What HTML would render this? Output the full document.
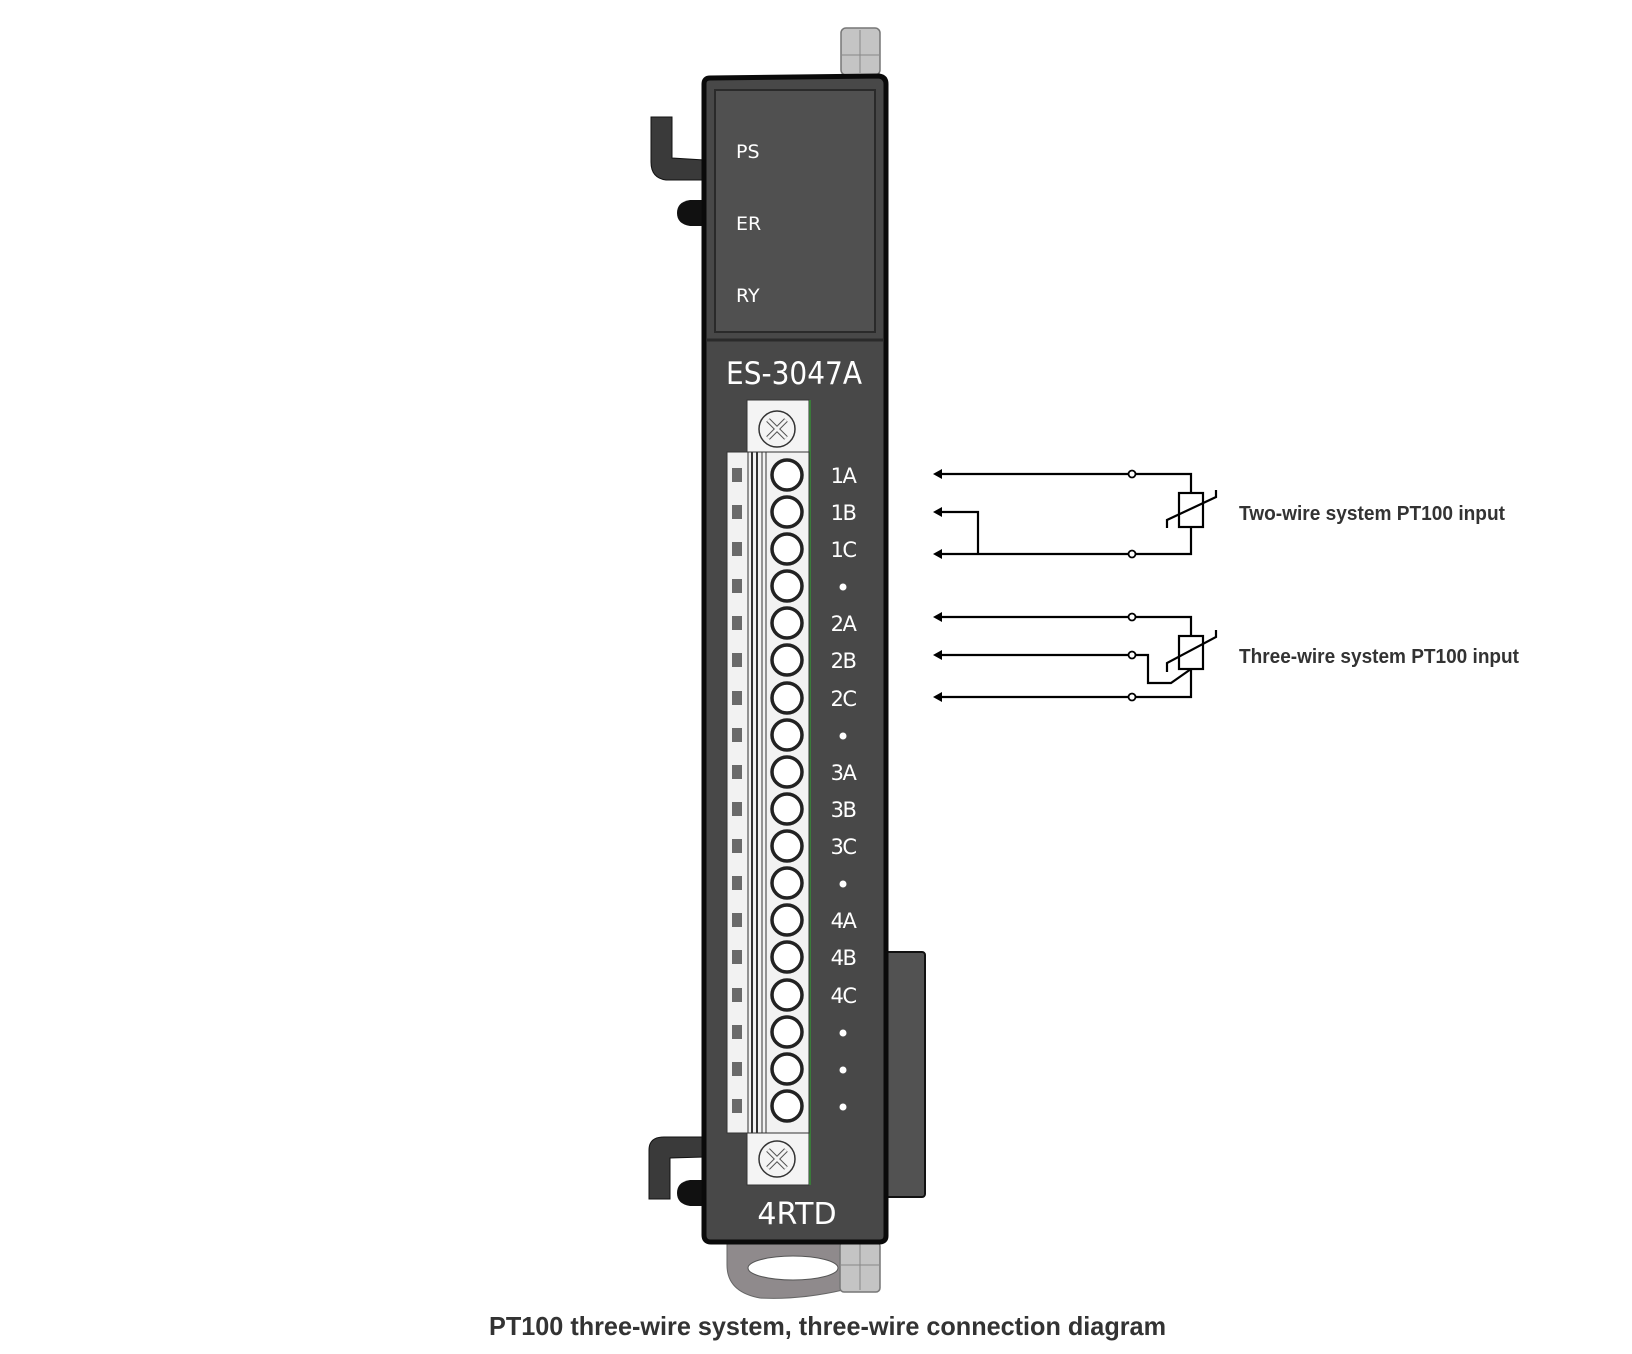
<!DOCTYPE html>
<html><head><meta charset="utf-8"><style>
html,body{margin:0;padding:0;background:#fff;}
svg{display:block;}
</style></head><body>
<svg width="1632" height="1354" viewBox="0 0 1632 1354" xmlns="http://www.w3.org/2000/svg">
<rect x="841" y="28" width="39" height="47" rx="5" fill="#c4c4c4" stroke="#777" stroke-width="1.5"/>
<line x1="860" y1="30" x2="860" y2="73" stroke="#888"/>
<line x1="842" y1="55" x2="879" y2="55" stroke="#888"/>
<path d="M727 1238 L843 1238 L843 1290 Q800 1300 760 1298 Q727 1292 727 1265 Z" fill="#8f8a8c" stroke="#666"/>
<ellipse cx="793" cy="1268" rx="45" ry="12" fill="#fff" stroke="#555"/>
<rect x="840" y="1242" width="40" height="50" rx="4" fill="#c4c4c4" stroke="#777" stroke-width="1.5"/>
<line x1="860" y1="1244" x2="860" y2="1290" stroke="#888"/>
<line x1="841" y1="1265" x2="879" y2="1265" stroke="#888"/>
<path d="M651 117 L672 117 L672 158 L704 160 L704 180 L666 180 Q651 178 651 162 Z" fill="#3a3a3a" stroke="#111"/>
<path d="M690 200 L706 200 L706 226 L690 226 Q677 224 677 213 Q677 202 690 200Z" fill="#111"/>
<path d="M649 1150 Q649 1137 664 1137 L704 1137 L704 1157 L670 1158 L670 1199 L649 1199 Z" fill="#3a3a3a" stroke="#111"/>
<path d="M690 1180 L706 1180 L706 1206 L690 1206 Q677 1204 677 1193 Q677 1182 690 1180Z" fill="#111"/>
<rect x="880" y="952" width="45" height="245" rx="3" fill="#525252" stroke="#111" stroke-width="2"/>
<path d="M710 78 L879 76 Q886 77 886 84 L886 1236 Q886 1242 879 1242 L711 1242 Q704 1242 704 1235 L704 84 Q704 78 710 78Z" fill="#484848" stroke="#0a0a0a" stroke-width="5"/>
<rect x="715" y="90" width="160" height="242" fill="#505050" stroke="#2a2a2a" stroke-width="2"/>
<line x1="706" y1="340" x2="884" y2="340" stroke="#2a2a2a" stroke-width="3"/>
<g font-family="'DejaVu Sans','Liberation Sans',sans-serif" fill="#fff">
<text x="736" y="158" font-size="19">PS</text>
<text x="736" y="230" font-size="19">ER</text>
<text x="736" y="302" font-size="19">RY</text>
<text x="726" y="384" font-size="31" textLength="136" lengthAdjust="spacingAndGlyphs">ES-3047A</text>
<text x="797" y="1224" font-size="30" text-anchor="middle">4RTD</text>
</g>
<rect x="747" y="400" width="62" height="54" fill="#f4f4f4" stroke="#333"/>
<circle cx="777" cy="429" r="18" fill="#f4f4f4" stroke="#333" stroke-width="1.5"/>
<path d="M768 420 L786 438 M786 420 L768 438" stroke="#555" stroke-width="5"/>
<path d="M768 420 L786 438 M786 420 L768 438" stroke="#f4f4f4" stroke-width="3"/>
<rect x="747" y="1133" width="62" height="52" fill="#f4f4f4" stroke="#333"/>
<circle cx="777" cy="1159" r="18" fill="#f4f4f4" stroke="#333" stroke-width="1.5"/>
<path d="M768 1150 L786 1168 M786 1150 L768 1168" stroke="#555" stroke-width="5"/>
<path d="M768 1150 L786 1168 M786 1150 L768 1168" stroke="#f4f4f4" stroke-width="3"/>
<line x1="810" y1="400" x2="810" y2="1185" stroke="#3a7a3a" stroke-width="2"/>
<rect x="727" y="452" width="82" height="681" fill="#f2f2f2" stroke="#333"/>
<g stroke="#333" fill="none">
<line x1="748" y1="452" x2="748" y2="1133"/>
<line x1="752" y1="452" x2="752" y2="1133" stroke-width="2"/>
<line x1="757" y1="452" x2="757" y2="1133" stroke-width="2"/>
<line x1="762" y1="452" x2="762" y2="1133"/>
<line x1="766" y1="452" x2="766" y2="1133"/>
</g>
<g fill="#6a6a6a">
<rect x="732" y="468" width="10" height="14"/><rect x="732" y="505" width="10" height="14"/><rect x="732" y="542" width="10" height="14"/><rect x="732" y="579" width="10" height="14"/><rect x="732" y="616" width="10" height="14"/><rect x="732" y="653" width="10" height="14"/><rect x="732" y="691" width="10" height="14"/><rect x="732" y="728" width="10" height="14"/><rect x="732" y="765" width="10" height="14"/><rect x="732" y="802" width="10" height="14"/><rect x="732" y="839" width="10" height="14"/><rect x="732" y="876" width="10" height="14"/><rect x="732" y="913" width="10" height="14"/><rect x="732" y="950" width="10" height="14"/><rect x="732" y="988" width="10" height="14"/><rect x="732" y="1025" width="10" height="14"/><rect x="732" y="1062" width="10" height="14"/><rect x="732" y="1099" width="10" height="14"/>
</g>
<g fill="#fff" stroke="#222" stroke-width="3.5">
<circle cx="787" cy="475" r="15"/><circle cx="787" cy="512" r="15"/><circle cx="787" cy="549" r="15"/><circle cx="787" cy="586" r="15"/><circle cx="787" cy="623" r="15"/><circle cx="787" cy="660" r="15"/><circle cx="787" cy="698" r="15"/><circle cx="787" cy="735" r="15"/><circle cx="787" cy="772" r="15"/><circle cx="787" cy="809" r="15"/><circle cx="787" cy="846" r="15"/><circle cx="787" cy="883" r="15"/><circle cx="787" cy="920" r="15"/><circle cx="787" cy="957" r="15"/><circle cx="787" cy="995" r="15"/><circle cx="787" cy="1032" r="15"/><circle cx="787" cy="1069" r="15"/><circle cx="787" cy="1106" r="15"/>
</g>
<g font-family="'DejaVu Sans','Liberation Sans',sans-serif" fill="#fff" font-size="21" text-anchor="middle" letter-spacing="-1.5">
<text x="843" y="483">1A</text><text x="843" y="520">1B</text><text x="843" y="557">1C</text>
<circle cx="843" cy="587" r="3.5"/>
<text x="843" y="631">2A</text><text x="843" y="668">2B</text><text x="843" y="706">2C</text>
<circle cx="843" cy="736" r="3.5"/>
<text x="843" y="780">3A</text><text x="843" y="817">3B</text><text x="843" y="854">3C</text>
<circle cx="843" cy="884" r="3.5"/>
<text x="843" y="928">4A</text><text x="843" y="965">4B</text><text x="843" y="1003">4C</text>
<circle cx="843" cy="1033" r="3.5"/><circle cx="843" cy="1070" r="3.5"/><circle cx="843" cy="1107" r="3.5"/>
</g>
<g stroke="#000" stroke-width="2.2" fill="none">
<line x1="940" y1="474" x2="1129" y2="474"/><path d="M1135 474 H1191 V493"/>
<rect x="1179" y="493" width="24" height="34"/><path d="M1191 527 V554 H1135"/>
<line x1="940" y1="554" x2="1129" y2="554"/>
<path d="M940 512 H978 V554"/>
<path d="M1167 528 V520 L1216 497 V490"/>
<line x1="940" y1="617" x2="1129" y2="617"/><path d="M1135 617 H1191 V636"/>
<rect x="1179" y="636" width="24" height="33"/><path d="M1191 669 V697 H1135"/>
<line x1="940" y1="655" x2="1129" y2="655"/><path d="M1135 655 H1148 V683 H1171 L1191 669"/>
<line x1="940" y1="697" x2="1129" y2="697"/>
<path d="M1167 672 V663 L1216 637 V630"/>
</g>
<g fill="#fff" stroke="#000" stroke-width="1.8">
<circle cx="1132" cy="474" r="3.5"/><circle cx="1132" cy="554" r="3.5"/>
<circle cx="1132" cy="617" r="3.5"/><circle cx="1132" cy="655" r="3.5"/><circle cx="1132" cy="697" r="3.5"/>
</g>
<g fill="#000">
<path d="M933 474 L942 469 L942 479Z"/><path d="M933 512 L942 507 L942 517Z"/><path d="M933 554 L942 549 L942 559Z"/>
<path d="M933 617 L942 612 L942 622Z"/><path d="M933 655 L942 650 L942 660Z"/><path d="M933 697 L942 692 L942 702Z"/>
</g>
<g font-family="'Liberation Sans',Arial,sans-serif" font-weight="bold" fill="#333">
<text x="1239" y="520" font-size="20" textLength="266" lengthAdjust="spacingAndGlyphs">Two-wire system PT100 input</text>
<text x="1239" y="663" font-size="20" textLength="280" lengthAdjust="spacingAndGlyphs">Three-wire system PT100 input</text>
<text x="489" y="1335" font-size="26" textLength="677" lengthAdjust="spacingAndGlyphs">PT100 three-wire system, three-wire connection diagram</text>
</g>
</svg>
</body></html>
